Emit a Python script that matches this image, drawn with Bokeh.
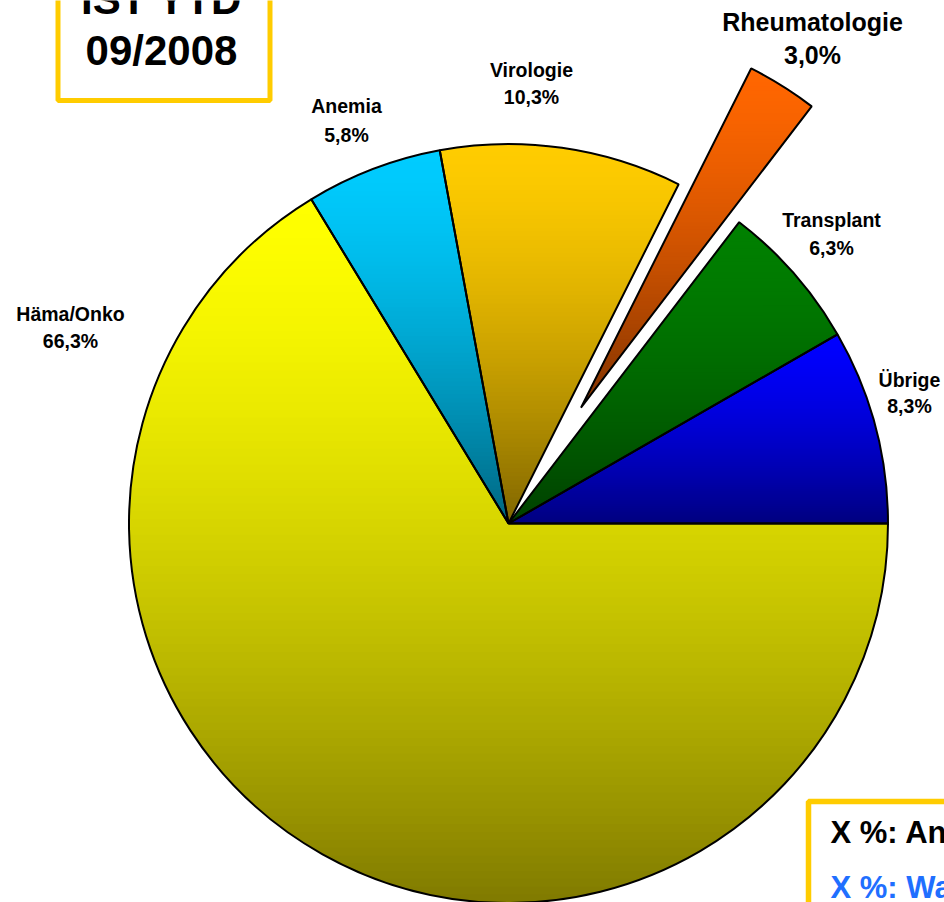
import numpy as np
from bokeh.plotting import figure
from bokeh.models import Range1d
from bokeh.embed import file_html
from bokeh.resources import INLINE
from bokeh.core.properties import value

# ---------------- data ----------------
categories = ["Übrige", "Transplant", "Rheumatologie", "Virologie", "Anemia", "Häma/Onko"]
shares = [8.3, 6.3, 3.0, 10.3, 5.8, 66.3]
pct_labels = ["8,3%", "6,3%", "3,0%", "10,3%", "5,8%", "66,3%"]
explode = [0.0, 0.0, 0.36, 0.0, 0.0, 0.0]
top_colors = ["#0000FF", "#008000", "#FF6600", "#FFCC00", "#00CCFF", "#FFFF00"]
bottom_colors = ["#000080", "#004000", "#803300", "#806600", "#006680", "#807A00"]
title_lines = ["IST YTD", "09/2008"]
legend_lines = ["X %: Anteil", "X %: Wachstum"]
legend_colors = ["#000000", "#1F6FFF"]

# ---------------- layout (reference pixel space, y down) ----------------
W_REF, H_REF = 944, 902
FIG_W, FIG_H = 944, 902
CX, CY_REF, R = 508.0, 523.0, 379.5
# (x centre, baseline of line 1, baseline of line 2)
label_pos = [(909, 387, 413), (831, 227, 255), (812, 30, 63),
             (531, 77, 104), (346, 113, 142), (70, 321, 348)]
FONT = value("Liberation Sans")
BASE_SHIFT = 0.36  # fraction of font size to lift the rendered baseline


def yd(y_ref):
    return H_REF - y_ref


def yb(base_ref, fs):
    return yd(base_ref - BASE_SHIFT * fs)


CY = yd(CY_REF)


def hex2rgb(h):
    h = h.lstrip("#")
    return np.array([int(h[i:i + 2], 16) for i in (0, 2, 4)], dtype=float)


def rgb2hex(c):
    c = np.clip(np.round(c), 0, 255).astype(int)
    return "#%02x%02x%02x" % tuple(c)


def clip_half(poly, y0, keep_above):
    out = []
    n = len(poly)
    for i in range(n):
        p1 = poly[i]
        p2 = poly[(i + 1) % n]
        in1 = (p1[1] >= y0) if keep_above else (p1[1] <= y0)
        in2 = (p2[1] >= y0) if keep_above else (p2[1] <= y0)
        if in1:
            out.append(p1)
        if in1 != in2:
            t = (y0 - p1[1]) / (p2[1] - p1[1])
            out.append((p1[0] + t * (p2[0] - p1[0]), y0))
    return out


p = figure(width=FIG_W, height=FIG_H,
           x_range=Range1d(0, W_REF), y_range=Range1d(0, H_REF),
           output_backend="svg", toolbar_location=None,
           x_axis_type=None, y_axis_type=None, min_border=0)
p.grid.visible = False
p.outline_line_color = None
p.background_fill_color = "white"

total = float(sum(shares))
starts, ends, cxs, cys = [], [], [], []
acc = 0.0
for sh, ex in zip(shares, explode):
    a0 = 2 * np.pi * acc / total
    a1 = 2 * np.pi * (acc + sh) / total
    acc += sh
    mid = 0.5 * (a0 + a1)
    starts.append(a0)
    ends.append(a1)
    cxs.append(CX + ex * R * np.cos(mid))
    cys.append(CY + ex * R * np.sin(mid))

# gradient fill, built as thin horizontal bands of each wedge
bx, by, bc = [], [], []
NB = 90
for i in range(len(shares)):
    angs = np.linspace(starts[i], ends[i], 200)
    poly = [(cxs[i], cys[i])] + [(cxs[i] + R * np.cos(a), cys[i] + R * np.sin(a)) for a in angs]
    ys = [q[1] for q in poly]
    ymin, ymax = min(ys), max(ys)
    c_top, c_bot = hex2rgb(top_colors[i]), hex2rgb(bottom_colors[i])
    edges = np.linspace(ymax, ymin, NB + 1)
    for k in range(NB):
        yt, ybt = edges[k], edges[k + 1]
        part = clip_half(poly, ybt - 0.7, True)
        if len(part) < 3:
            continue
        part = clip_half(part, yt + 0.7, False)
        if len(part) < 3:
            continue
        t = ((k + 0.5) / NB) ** 1.5
        bx.append([q[0] for q in part])
        by.append([q[1] for q in part])
        bc.append(rgb2hex(c_top + (c_bot - c_top) * t))

p.patches(bx, by, fill_color=bc, line_color=None)
p.wedge(x=cxs, y=cys, radius=R, start_angle=starts, end_angle=ends,
        fill_color=None, line_color="black", line_width=2)

# data labels
for i, cat in enumerate(categories):
    lx, y1, y2 = label_pos[i]
    fs = 25 if cat == "Rheumatologie" else 19.5
    p.text(x=[lx, lx], y=[yb(y1, fs), yb(y2, fs)], text=[cat, pct_labels[i]],
           text_font=FONT, text_font_style="bold", text_font_size=f"{fs}px",
           text_align="center", text_baseline="alphabetic", text_color="black")

# title box (cut at the top, as in the reference)
TFS = 42
p.quad(left=[57.5], right=[269.5], top=[H_REF + 40], bottom=[yd(100)],
       fill_color="white", line_color="#FFCC00", line_width=5)
p.text(x=[161, 161], y=[yb(14, TFS), yb(65, TFS)], text=title_lines,
       text_font=FONT, text_font_style="bold", text_font_size=f"{TFS}px",
       text_align="center", text_baseline="alphabetic", text_color="black")

# legend box (cut at the border, as in the reference)
LFS = 31
p.quad(left=[808], right=[W_REF + 40], top=[yd(801)], bottom=[-60],
       fill_color="white", line_color="#FFCC00", line_width=5.5)
p.text(x=[830, 830], y=[yb(843, LFS), yb(898, LFS)], text=legend_lines,
       text_font=FONT, text_font_style="bold", text_font_size=f"{LFS}px",
       text_align="left", text_baseline="alphabetic", text_color=legend_colors)

open("out.html", "w").write(file_html(p, INLINE))
